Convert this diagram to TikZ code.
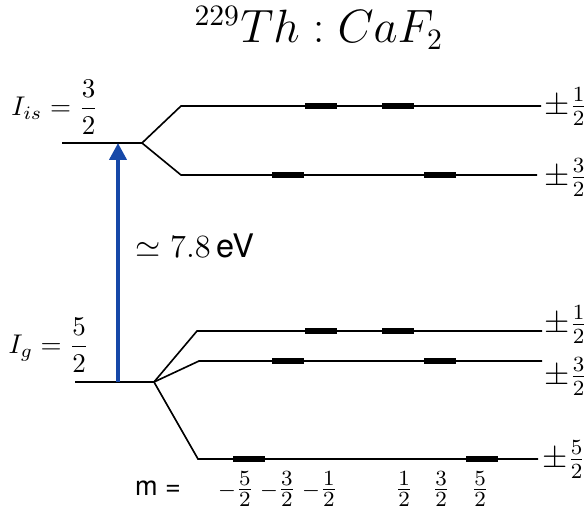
\documentclass[tikz,border=0pt]{standalone}
\usepackage{fontspec}
\setsansfont{TeX Gyre Heros}
\usepackage{amsmath}
\usepackage{tikz}
\usetikzlibrary{arrows.meta}
\definecolor{arrowblue}{RGB}{22,72,168}

\begin{document}
\begin{tikzpicture}[
  x=0.013cm, y=-0.013cm,
  level/.style  = {line width=0.6pt},
  bar/.style    = {rectangle, fill=black, inner sep=0pt,
                   minimum width=0.42cm, minimum height=0.09cm},
  trans/.style  = {-{Triangle[length=0.22cm, width=0.22cm]},
                   line width=1.5pt, draw=arrowblue},
  mval/.style   = {inner sep=0pt, font=\fontsize{11}{13}\selectfont},
  sublab/.style = {inner sep=0pt, font=\fontsize{11.5}{13}\selectfont},
]
  \useasboundingbox (0,0) rectangle (584,517);

  % Title
  \node (title) at (319,28) {\fontsize{16}{19}\selectfont $^{229}Th : CaF_2$};

  % Isomer level and its splitting
  \coordinate (isoL)  at (62,143);
  \coordinate (isoS)  at (142,143);
  \coordinate (iso1a) at (181,106);
  \coordinate (iso1b) at (541,106);
  \coordinate (iso3a) at (181,175);
  \coordinate (iso3b) at (537,175);

  \draw[level] (isoL) -- (isoS);
  \draw[level] (isoS) -- (iso1a) -- (iso1b);
  \draw[level] (isoS) -- (iso3a) -- (iso3b);

  % Ground level and its splitting
  \coordinate (gndL)  at (75,382);
  \coordinate (gndS)  at (154,382);
  \coordinate (gnd1a) at (197,331);
  \coordinate (gnd1b) at (542,331);
  \coordinate (gnd3a) at (199,361);
  \coordinate (gnd3b) at (542,361);
  \coordinate (gnd5a) at (198,459);
  \coordinate (gnd5b) at (538,459);

  \draw[level] (gndL) -- (gndS);
  \draw[level] (gndS) -- (gnd1a) -- (gnd1b);
  \draw[level] (gndS) -- (gnd3a) -- (gnd3b);
  \draw[level] (gndS) -- (gnd5a) -- (gnd5b);

  % Sublevel markers
  \node[bar] (iso1m) at (321,106) {};
  \node[bar] (iso1p) at (398,106) {};
  \node[bar] (iso3m) at (288,175) {};
  \node[bar] (iso3p) at (440,175) {};
  \node[bar] (gnd1m) at (321,331) {};
  \node[bar] (gnd1p) at (398,331) {};
  \node[bar] (gnd3m) at (288,361) {};
  \node[bar] (gnd3p) at (440,361) {};
  \node[bar] (gnd5m) at (249,459) {};
  \node[bar] (gnd5p) at (482,459) {};

  % Level labels
  \node (isoLab) at (55,107) {$I_{is} = \dfrac{3}{2}$};
  \node (gndLab) at (49,345) {$I_g = \dfrac{5}{2}$};

  \node[sublab] (iso1) at (566,107) {$\pm\tfrac{1}{2}$};
  \node[sublab] (iso3) at (566,178) {$\pm\tfrac{3}{2}$};
  \node[sublab] (gnd1) at (566,325) {$\pm\tfrac{1}{2}$};
  \node[sublab] (gnd3) at (566,377) {$\pm\tfrac{3}{2}$};
  \node[sublab] (gnd5) at (564,460) {$\pm\tfrac{5}{2}$};

  % Transition
  \coordinate (trLow)  at (118,382);
  \coordinate (trHigh) at (118,143);
  \draw[trans] (trLow) -- (trHigh);
  \node (energy) at (195,246) {\large $\simeq 7.8\,$\textsf{eV}};

  % Magnetic quantum numbers
  \node (mlab) at (158,488) {\textsf{m =}};
  \node[mval] (m1) at (236,489) {${\scriptstyle -}\tfrac{5}{2}$};
  \node[mval] (m2) at (278,489) {${\scriptstyle -}\tfrac{3}{2}$};
  \node[mval] (m3) at (320,489) {${\scriptstyle -}\tfrac{1}{2}$};
  \node[mval] (m4) at (404,489) {$\tfrac{1}{2}$};
  \node[mval] (m5) at (441,489) {$\tfrac{3}{2}$};
  \node[mval] (m6) at (480,489) {$\tfrac{5}{2}$};
\end{tikzpicture}
\end{document}
